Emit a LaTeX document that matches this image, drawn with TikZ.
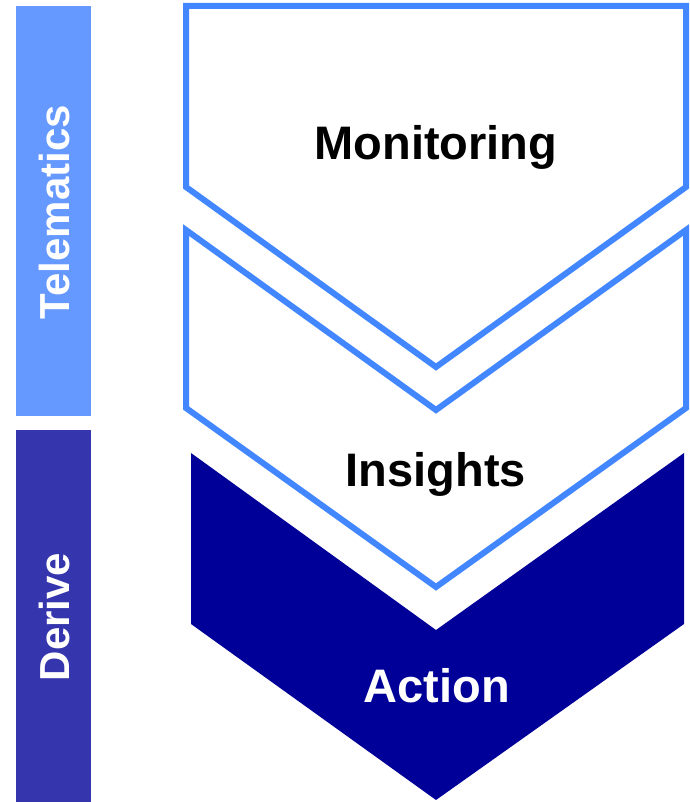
\documentclass[tikz,border=0pt]{standalone}
\usepackage{fontspec}
\setmainfont{Liberation Sans}
\usepackage{xcolor}
\definecolor{barlight}{HTML}{6699FF}
\definecolor{bardark}{HTML}{3535AD}
\definecolor{edgeblue}{HTML}{4287FF}
\definecolor{actionblue}{HTML}{000099}
\newcommand{\bigtxt}{\fontsize{47}{50}\selectfont\bfseries}
\newcommand{\sidetxt}{\fontsize{42}{45}\selectfont\bfseries}

\begin{document}
\begin{tikzpicture}[x=1pt,y=-1pt,
  chevron/.style={draw=edgeblue, line width=6pt, fill=white},
  steplabel/.style={anchor=base, inner sep=0pt, font=\bigtxt},
  sidelabel/.style={anchor=base, rotate=90, inner sep=0pt, font=\sidetxt, text=white}]
\useasboundingbox (0,0) rectangle (689,802);
% side bars
\fill[barlight] (16,6) rectangle (91,416);
\fill[bardark] (16,430) rectangle (91,802);
\node[sidelabel] (tele) at (69,212) {Telematics};
\node[sidelabel] (derive) at (69,617) {Derive};
% chevrons
\draw[chevron] (186,6) -- (686,6) -- (686,187) -- (436,367) -- (186,187) -- cycle;
\draw[chevron] (186,230) -- (436,410) -- (686,230) -- (686,408) -- (436,587) -- (186,408) -- cycle;
\fill[actionblue] (191,453) -- (436,630) -- (684,453) -- (684,624) -- (436,800) -- (191,624) -- cycle;
\node[steplabel] (monitor) at (436,160) {Monitoring};
\node[steplabel] (insight) at (436,486) {Insights};
\node[steplabel, text=white] (action) at (437,702) {Action};
\end{tikzpicture}
\end{document}
